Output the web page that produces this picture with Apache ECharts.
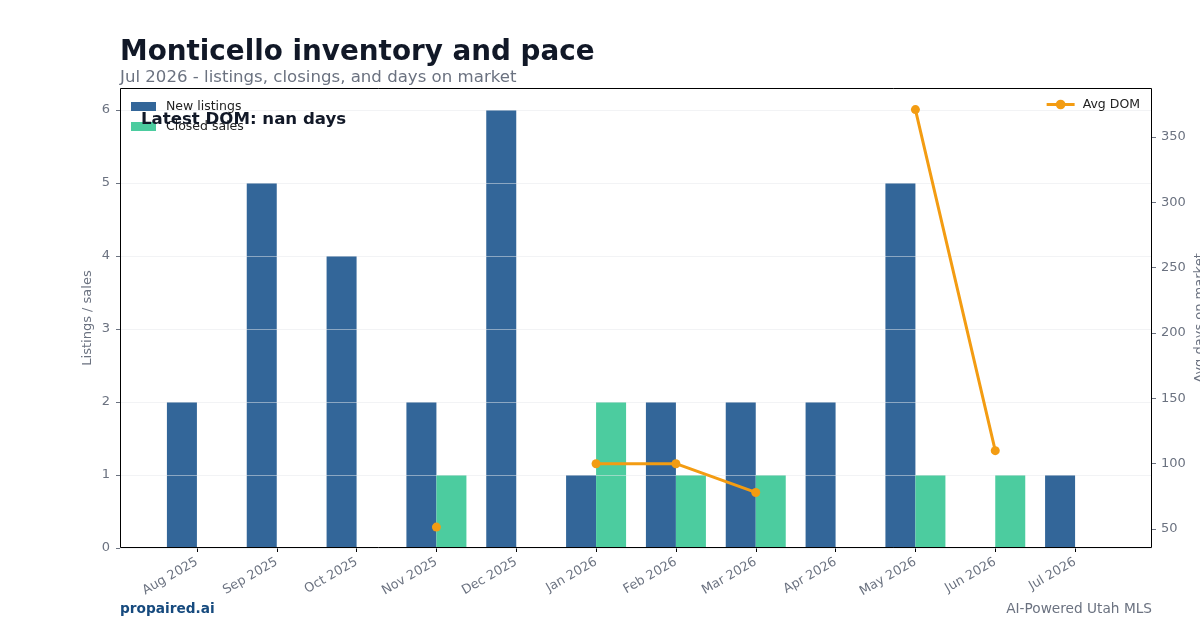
<!DOCTYPE html>
<html>
<head>
<meta charset="utf-8">
<script src="https://cdn.jsdelivr.net/npm/echarts@6/dist/echarts.min.js"></script>
<style>
html, body { margin: 0; padding: 0; background: #fff; }
#chart { width: 1200px; height: 630px; }
</style>
</head>
<body>
<div id="chart"></div>
<script>
var months = ['Aug 2025', 'Sep 2025', 'Oct 2025', 'Nov 2025', 'Dec 2025', 'Jan 2026',
	'Feb 2026', 'Mar 2026', 'Apr 2026', 'May 2026', 'Jun 2026', 'Jul 2026'];
var newListings = [2, 5, 4, 2, 6, 1, 2, 2, 2, 5, 0, 1];
var closedSales = [0, 0, 0, 1, 0, 2, 1, 1, 0, 1, 1, 0];
var avgDom = [null, null, null, 51.5, null, 100, 100, 78, null, 371, 110, null];

var font = 'DejaVu Sans';
var gray = '#6b7280';

var option = {
	animation : false,
	textStyle : { fontFamily : font },
	title : [
		{
			text : 'Monticello inventory and pace',
			left : 120, top : 39, padding : 0,
			textStyle : { fontSize : 27.8, fontWeight : 'bold', color : '#111827', fontFamily : font }
		},
		{
			text : 'Jul 2026 - listings, closings, and days on market',
			left : 120, top : 69, padding : 0,
			textStyle : { fontSize : 16.6, fontWeight : 'normal', color : gray, fontFamily : font }
		},
		{
			text : 'Latest DOM: nan days',
			left : 141, top : 111, padding : 0,
			textStyle : { fontSize : 16.6, fontWeight : 'bold', color : '#111827', fontFamily : font }
		},
		{
			text : 'propaired.ai',
			left : 120, top : 602, padding : 0,
			textStyle : { fontSize : 13.7, fontWeight : 'bold', color : '#164a7e', fontFamily : font }
		},
		{
			text : 'AI-Powered Utah MLS',
			right : 48, top : 602, padding : 0,
			textStyle : { fontSize : 13.7, fontWeight : 'normal', color : gray, fontFamily : font }
		}
	],
	legend : [
		{
			data : [{ name : 'New listings', icon : 'rect' }, { name : 'Closed sales', icon : 'rect' }],
			orient : 'vertical',
			left : 131, top : 100, padding : 0,
			itemWidth : 25, itemHeight : 9, itemGap : 7,
			textStyle : { fontSize : 12.5, color : '#222', fontFamily : font, padding : [0, 0, 0, 5] }
		},
		{
			data : ['Avg DOM'],
			right : 60, top : 98, padding : 0,
			itemWidth : 28, itemHeight : 12,
			lineStyle : { width : 3 },
			textStyle : { fontSize : 12.5, color : '#222', fontFamily : font, padding : [0, 0, 0, 3] }
		}
	],
	graphic : [
		{
			type : 'rect',
			z : 100,
			silent : true,
			shape : { x : 120.5, y : 88.5, width : 1031, height : 459 },
			style : { fill : null, stroke : '#000', lineWidth : 1 }
		}
	],
	grid : [
		{ left : 157, right : 85, top : 88, bottom : 82, outerBoundsMode : 'none' },
		{ left : 120, right : 48, top : 88, bottom : 82, outerBoundsMode : 'none' }
	],
	xAxis : [
		{
			type : 'category',
			data : months,
			gridIndex : 0,
			axisLine : { show : false },
			axisTick : { show : true, alignWithLabel : true, length : 4, lineStyle : { color : '#000' } },
			axisLabel : { rotate : 30, color : gray, fontSize : 12.8, margin : 13, interval : 0 }
		},
		{ type : 'value', gridIndex : 1, show : false }
	],
	yAxis : [
		{
			type : 'value',
			gridIndex : 0,
			min : 0, max : 6.3, interval : 1,
			offset : 37,
			name : 'Listings / sales',
			nameLocation : 'middle',
			nameGap : 26,
			nameMoveOverlap : false,
			nameTextStyle : { color : gray, fontSize : 13 },
			axisLine : { show : false },
			axisTick : { show : true, length : 4, lineStyle : { color : gray } },
			axisLabel : { color : gray, fontSize : 13, margin : 10, showMaxLabel : false,
				formatter : function(v) { return v % 1 === 0 ? String(v) : ''; } },
			splitLine : { show : false }
		},
		{
			type : 'value',
			gridIndex : 0,
			position : 'right',
			min : 35.5, max : 387.5, splitNumber : 7,
			offset : 37,
			name : 'Avg days on market',
			nameLocation : 'middle',
			nameRotate : 90,
			nameGap : 41,
			nameMoveOverlap : false,
			nameTextStyle : { color : gray, fontSize : 13 },
			axisLine : { show : false },
			axisTick : { show : true, length : 4, lineStyle : { color : gray } },
			axisLabel : { color : gray, fontSize : 13, margin : 9, showMinLabel : false, showMaxLabel : false,
				formatter : function(v) { return v % 50 === 0 ? String(v) : ''; } },
			splitLine : { show : false }
		},
		{
			// full-width gridlines drawn over the bars
			type : 'value',
			gridIndex : 1,
			min : 0, max : 6.3, interval : 1,
			z : 3,
			axisLine : { show : false },
			axisTick : { show : false },
			axisLabel : { show : false },
			splitLine : { show : true, lineStyle : { color : 'rgba(229,231,235,0.5)', width : 1 } }
		}
	],
	series : [
		{
			name : 'New listings',
			type : 'bar',
			data : newListings,
			barWidth : 30,
			barGap : '0%',
			itemStyle : { color : '#336699' }
		},
		{
			name : 'Closed sales',
			type : 'bar',
			data : closedSales,
			barWidth : 30,
			itemStyle : { color : '#4ccc9f' }
		},
		{
			name : 'Avg DOM',
			type : 'line',
			yAxisIndex : 1,
			data : avgDom,
			connectNulls : false,
			z : 5,
			symbol : 'circle',
			symbolSize : 9,
			showAllSymbol : true,
			lineStyle : { color : '#f39c12', width : 3 },
			itemStyle : { color : '#f39c12' }
		}
	]
};

var chart = echarts.init(document.getElementById('chart'));
chart.setOption(option);
</script>
</body>
</html>
